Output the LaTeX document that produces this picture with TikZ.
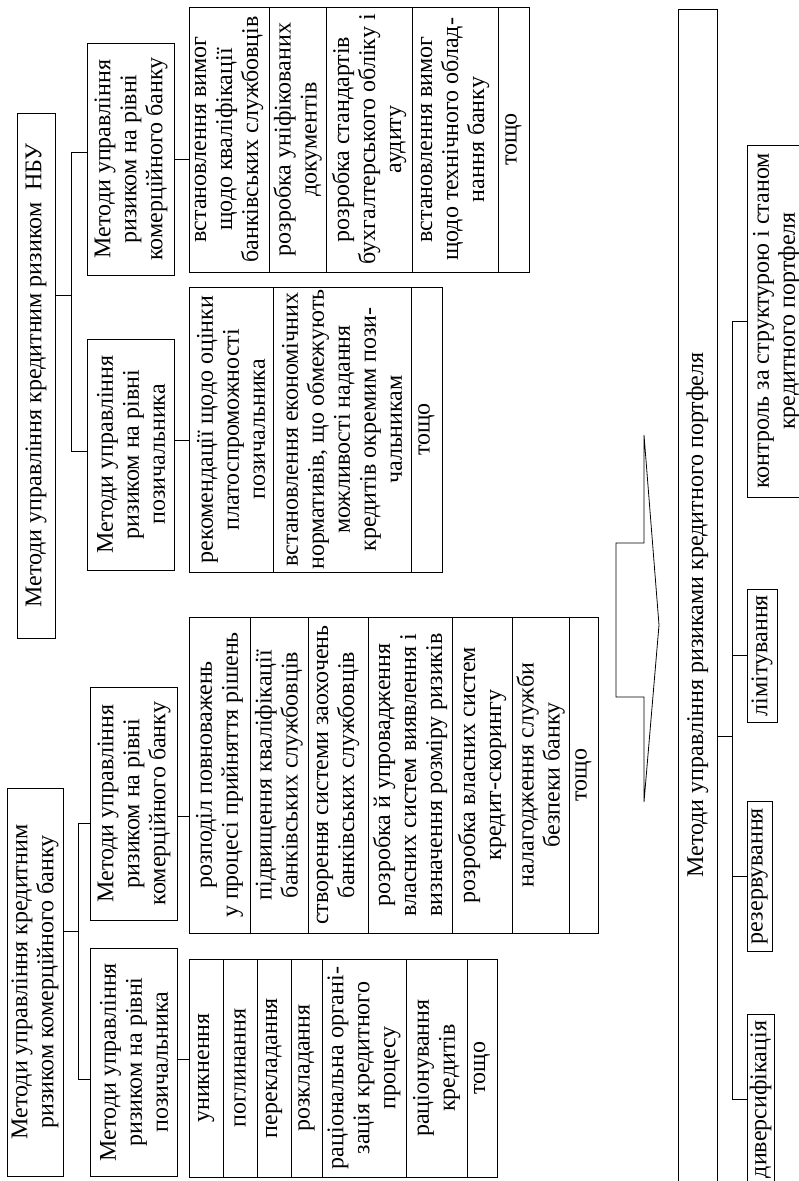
\documentclass[tikz,border=0pt]{standalone}
\usepackage{fontspec}
\setmainfont{Liberation Serif}
\usetikzlibrary{positioning}

\begin{document}
\begin{tikzpicture}[
    x=1pt,y=1pt,
    line width=0.8pt,
    every node/.style={font=\fontsize{24}{26}\selectfont,align=center,rotate=90,inner sep=2pt,outer sep=0pt},
    headbox/.style={draw},
    lvlbox/.style={draw,minimum width=#1,minimum height=87},
    rowbox/.style={draw,minimum width=#1}
]
\useasboundingbox (0,0) rectangle (799,-1181);
\clip (0,0) rectangle (799,-1181);

% bank level
\node[headbox,minimum width=388,minimum height=56] (bankTop) at (35,-982) {Методи управління кредитним\\ризиком комерційного банку};
\node[lvlbox=233] (bankBank) at (134,-803.5) {Методи управління\\ризиком на рівні\\комерційного банку};
\node[lvlbox=228] (bankBor) at (134,-1062) {Методи управління\\ризиком на рівні\\позичальника};

% NBU level
\node[headbox,minimum width=525,minimum height=38] (nbuTop) at (36,-375.5) {Методи управління кредитним ризиком\ \ НБУ};
\node[lvlbox=231] (nbuBor) at (131,-454.5) {Методи управління\\ризиком на рівні\\позичальника};
\node[lvlbox=232] (nbuBank) at (131,-159) {Методи управління\\ризиком на рівні\\комерційного банку};

% bank / borrower list
\node[rowbox=218,minimum height=34] (bb1) at (206,-1068) {уникнення};
\node[rowbox=218,minimum height=34,below=0pt of bb1] (bb2) {поглинання};
\node[rowbox=218,minimum height=34,below=0pt of bb2] (bb3) {перекладання};
\node[rowbox=218,minimum height=31,below=0pt of bb3] (bb4) {розкладання};
\node[rowbox=218,minimum height=84,below=0pt of bb4] (bb5) {раціональна органі-\\зація кредитного\\процесу};
\node[rowbox=218,minimum height=61,below=0pt of bb5] (bb6) {раціонування\\кредитів};
\node[rowbox=218,minimum height=30,below=0pt of bb6] (bb7) {тощо};

% bank / bank list
\node[rowbox=316,minimum height=61] (bk1) at (219.5,-775) {розподіл повноважень\\у процесі прийняття рішень};
\node[rowbox=316,minimum height=58,below=0pt of bk1] (bk2) {підвищення кваліфікації\\банківських службовців};
\node[rowbox=316,minimum height=60,below=0pt of bk2] (bk3) {створення системи заохочень\\банківських службовців};
\node[rowbox=316,minimum height=84,below=0pt of bk3] (bk4) {розробка й упровадження\\власних систем виявлення і\\визначення розміру ризиків};
\node[rowbox=316,minimum height=60,below=0pt of bk4] (bk5) {розробка власних систем\\кредит-скорингу};
\node[rowbox=316,minimum height=57,below=0pt of bk5] (bk6) {налагодження служби\\безпеки банку};
\node[rowbox=316,minimum height=29,below=0pt of bk6] (bk7) {тощо};

% NBU / borrower list
\node[rowbox=285,minimum height=84] (nb1) at (231,-429.5) {рекомендації щодо оцінки\\платоспроможності\\позичальника};
\node[rowbox=285,minimum height=138,below=0pt of nb1] (nb2) {встановлення економічних\\нормативів, що обмежують\\можливості надання\\кредитів окремим пози-\\чальникам};
\node[rowbox=285,minimum height=31,below=0pt of nb2] (nb3) {тощо};

% NBU / bank list
\node[rowbox=265,minimum height=80] (nk1) at (229,-139.5) {встановлення вимог\\щодо кваліфікації\\банківських службовців};
\node[rowbox=265,minimum height=57,below=0pt of nk1] (nk2) {розробка уніфікованих\\документів};
\node[rowbox=265,minimum height=86,below=0pt of nk2] (nk3) {розробка стандартів\\бухгалтерського обліку і\\аудиту};
\node[rowbox=265,minimum height=86,below=0pt of nk3] (nk4) {встановлення вимог\\щодо технічного облад-\\нання банку};
\node[rowbox=265,minimum height=31,below=0pt of nk4] (nk5) {тощо};

% portfolio
\node[headbox,minimum width=1212,minimum height=39] (portfolio) at (697.5,-615) {Методи управління ризиками кредитного портфеля};
\node[headbox,minimum width=352,minimum height=59] (kontrol) at (776.5,-321) {контроль за структурою і станом\\кредитного портфеля};
\node[headbox,minimum width=133,minimum height=30] (limit) at (762,-655.5) {лімітування};
\node[headbox,minimum width=150,minimum height=25] (reserve) at (759.5,-876) {резервування};
\node[headbox,minimum width=171,minimum height=27] (divers) at (760.5,-1099.5) {диверсифікація};

% connectors
\draw ([yshift=51]bankTop.south) -- ++(16,0);
\draw ([yshift=-20]bankBank.north) -- ++(-12,0) |- ([yshift=-17]bankBor.north);
\draw ([yshift=80.5]nbuTop.south) -- ++(16,0);
\draw ([yshift=7]nbuBank.north) -- ++(-16,0) |- ([yshift=3.5]nbuBor.north);
\draw ([yshift=3]bankBor.south) coordinate (bbOut) -- (bbOut -| bb1.north);
\draw ([yshift=-13]bankBank.south) coordinate (bkOut) -- (bkOut -| bk1.north);
\draw ([yshift=14.5]nbuBor.south) coordinate (nbOut) -- (nbOut -| nb1.north);
\draw (nbuBank.south) -- (nbuBank.south -| nk1.north);
\draw ([yshift=-121]portfolio.south) -- ++(15,0);
\draw (kontrol.north) -- ++(-15,0) |- (divers.north);
\draw (limit.north) -- ++(-15,0);
\draw (reserve.north) -- ++(-15,0);

% big arrow
\draw (616,-543) -- (644,-543) -- (644,-435) -- (659,-625) -- (644,-802) -- (644,-697) -- (616,-697) -- cycle;
\end{tikzpicture}
\end{document}
